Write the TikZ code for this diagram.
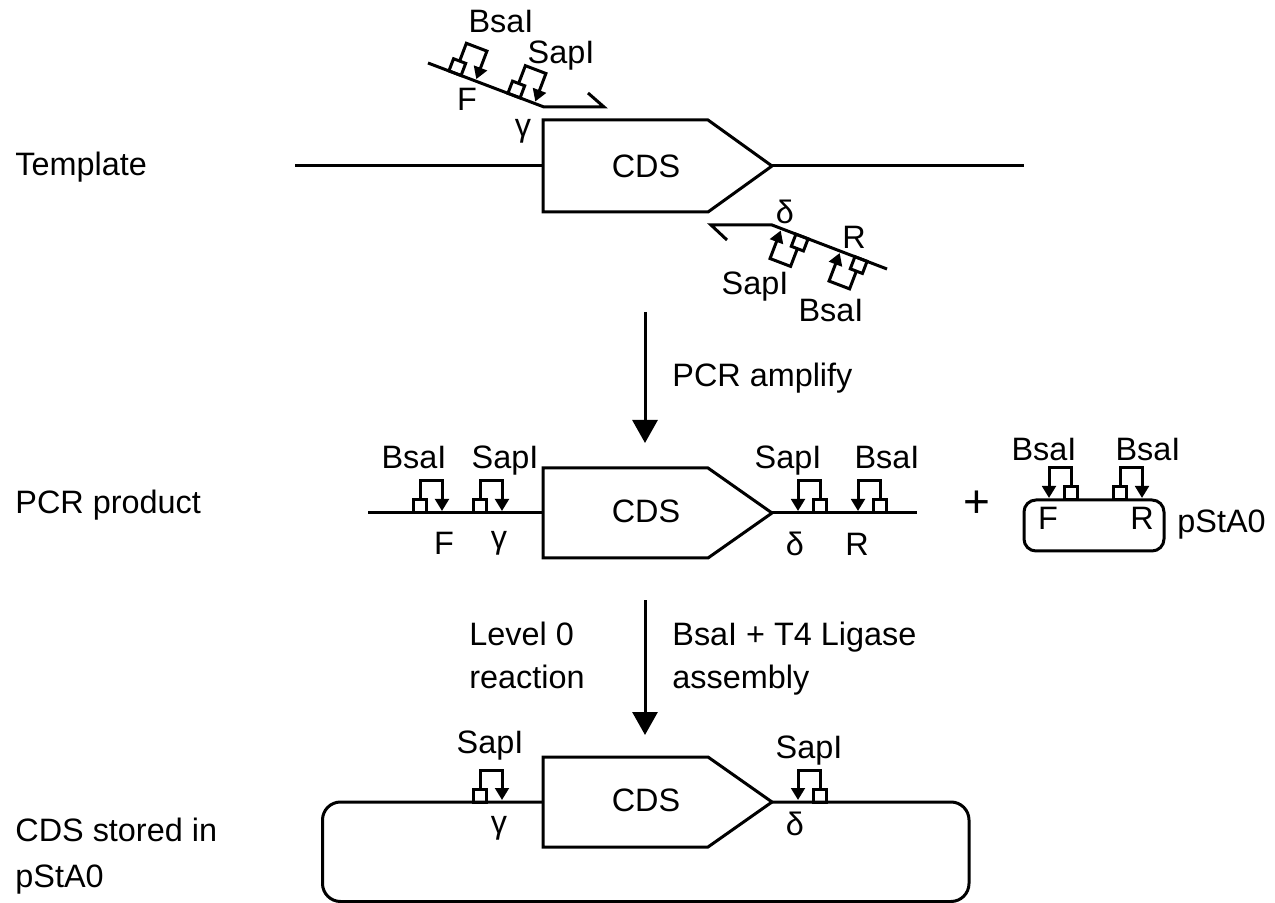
\documentclass[tikz,border=0pt]{standalone}
\usepackage{fontspec}
\setmainfont{Liberation Sans}
\usetikzlibrary{arrows.meta}
\tikzset{
  ln/.style={line width=1.5pt,black,line join=miter},
  site/.style={line width=1.5pt,black},
  bigarrow/.style={ln,-{Triangle[length=11.5pt,width=12.5pt]}},
  smallarrow/.style={site,-{Triangle[length=6pt,width=6.8pt]}},
  lab/.style={font=\fontsize{16.2}{18}\selectfont,inner sep=0pt,anchor=base},
  leftlab/.style={lab,anchor=base west},
  plus/.style={font=\fontsize{23}{24}\selectfont,inner sep=0pt},
}
% #1 position, #2 rotation, #3 direction (1 = arrow to the right of the box)
\newcommand{\rsite}[3]{%
  \begin{scope}[shift={#1},rotate=#2,xscale=#3]
    \coordinate (bt) at (0,-32);
    \coordinate (at) at (22,-32);
    \coordinate (tip) at (22,-2);
    \draw[site] (-6.5,0) rectangle (6.5,-13);
    \draw[smallarrow] (0,-13) -- (bt) -- (at) -- (tip);
  \end{scope}}
\begin{document}
\begin{tikzpicture}[x=0.5pt,y=-0.5pt]
\useasboundingbox (0,0) rectangle (1275,903);

% ---- row 1: template
\coordinate (t1) at (295,166); \coordinate (t2) at (1024,166);
\coordinate (c1a) at (543,120); \coordinate (c1b) at (708,120);
\coordinate (c1c) at (772,166); \coordinate (c1d) at (708,212);
\coordinate (c1e) at (543,212); \coordinate (c1l) at (543,166);
\draw[ln] (t1) -- (c1l);
\draw[ln] (c1c) -- (t2);
\draw[ln] (c1a) -- (c1b) -- (c1c) -- (c1d) -- (c1e) -- cycle;
\node[lab] (cds1) at (646,178) {CDS};
\node[leftlab] (template) at (15,176) {Template};

% forward primer
\coordinate (pf1) at (428,63); \coordinate (pf2) at (544,107);
\coordinate (pf3) at (604,107); \coordinate (pf4) at (588,93);
\draw[ln] (pf1) -- (pf2) -- (pf3) -- (pf4);
\rsite{(455,73.2)}{-20.8}{1}
\rsite{(514,95.6)}{-20.8}{1}
\node[lab] (b1) at (501,33) {BsaI};
\node[lab] (s1) at (561,64) {SapI};
\node[lab] (f1) at (467,111) {F};
\node[lab] (g1) at (523,136.5) {γ};

% reverse primer
\coordinate (pr1) at (887,269); \coordinate (pr2) at (772,225);
\coordinate (pr3) at (711,225); \coordinate (pr4) at (727,240);
\draw[ln] (pr1) -- (pr2) -- (pr3) -- (pr4);
\rsite{(802,236.5)}{159.1}{1}
\rsite{(861,259)}{159.1}{1}
\node[lab] (d2) at (785,224) {δ};
\node[lab] (r2) at (854,249) {R};
\node[lab] (s2) at (755,295) {SapI};
\node[lab] (b2) at (831,322) {BsaI};

% ---- arrow 1
\coordinate (a1s) at (645,312); \coordinate (a1e) at (645,443);
\draw[bigarrow] (a1s) -- (a1e);
\node[leftlab] (pcramp) at (672,387) {PCR amplify};

% ---- row 2: PCR product
\coordinate (l1) at (368,513); \coordinate (l2) at (917,513);
\coordinate (c2a) at (543,468); \coordinate (c2b) at (708,468);
\coordinate (c2c) at (772,513); \coordinate (c2d) at (708,558);
\coordinate (c2e) at (543,558); \coordinate (c2l) at (543,513);
\draw[ln] (l1) -- (c2l);
\draw[ln] (c2c) -- (l2);
\draw[ln] (c2a) -- (c2b) -- (c2c) -- (c2d) -- (c2e) -- cycle;
\node[lab] (cds2) at (646,523) {CDS};
\node[leftlab] (pcrp) at (15,514) {PCR product};
\rsite{(420,513)}{0}{1}
\rsite{(480,513)}{0}{1}
\rsite{(820,513)}{0}{-1}
\rsite{(880,513)}{0}{-1}
\node[lab] (b3) at (414,469) {BsaI};
\node[lab] (s3) at (505,469) {SapI};
\node[lab] (s4) at (788,469) {SapI};
\node[lab] (b4) at (887,469) {BsaI};
\node[lab] (f3) at (444,554) {F};
\node[lab] (g3) at (499,548.5) {γ};
\node[lab] (d3) at (795,555) {δ};
\node[lab] (r3) at (857,555) {R};

% plus and pStA0
\node[plus] (plus) at (977,504) {+};
\node[draw,ln,rounded corners=6pt,minimum width=70pt,minimum height=25.5pt,inner sep=0pt] (pst) at (1094,525.5) {};
\rsite{(1071,500)}{0}{-1}
\rsite{(1120,500)}{0}{1}
\node[lab] (b5) at (1044,461) {BsaI};
\node[lab] (b6) at (1148,461) {BsaI};
\node[lab] (f5) at (1048,530) {F};
\node[lab] (r5) at (1142,530) {R};
\node[leftlab] (psta) at (1177,532) {pStA0};

% ---- arrow 2
\coordinate (a2s) at (645,600); \coordinate (a2e) at (645,735);
\draw[bigarrow] (a2s) -- (a2e);
\node[leftlab] (lv1) at (469,645) {Level 0};
\node[leftlab] (lv2) at (469,688) {reaction};
\node[leftlab] (as1) at (672,645) {BsaI + T4 Ligase};
\node[leftlab] (as2) at (672,688) {assembly};

% ---- row 3: stored
\coordinate (c3a) at (543,757); \coordinate (c3b) at (708,757);
\coordinate (c3c) at (772,802); \coordinate (c3d) at (708,847);
\coordinate (c3e) at (543,847); \coordinate (c3l) at (543,802);
\coordinate (bbl) at (322.5,901.5); \coordinate (bbr) at (969,901.5);
\draw[ln,rounded corners=9pt] (c3l) -- (322.5,802) -- (bbl) -- (bbr) -- (969,802) -- (c3c);
\draw[ln] (c3a) -- (c3b) -- (c3c) -- (c3d) -- (c3e) -- cycle;
\node[lab] (cds3) at (646,811) {CDS};
\rsite{(480,802)}{0}{1}
\rsite{(820,802)}{0}{-1}
\node[lab] (s7) at (490,753) {SapI};
\node[lab] (s8) at (809,758) {SapI};
\node[lab] (g7) at (499,833.5) {γ};
\node[lab] (d8) at (795,835) {δ};
\node[leftlab] (st1) at (15,841) {CDS stored in};
\node[leftlab] (st2) at (15,887) {pStA0};
\end{tikzpicture}
\end{document}
